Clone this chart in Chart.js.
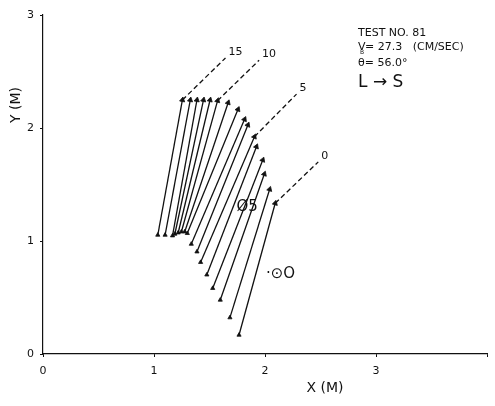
<!DOCTYPE html>
<html>
<head>
<meta charset="utf-8">
<script src="https://cdn.jsdelivr.net/npm/chart.js@4.4.1/dist/chart.umd.min.js"></script>
<style>
  body { margin: 0; background: #fff; }
</style>
</head>
<body>
<canvas id="myChart" width="495" height="406"></canvas>
<script>
// run numbers 0..15, lower end (start) and upper end (arrow head) in metres
const runs = [0, 1, 2, 3, 4, 5, 6, 7, 8, 9, 10, 11, 12, 13, 14, 15];
const startX = [1.766, 1.684, 1.597, 1.529, 1.476, 1.420, 1.387, 1.336, 1.300, 1.277, 1.247, 1.218, 1.188, 1.167, 1.100, 1.034];
const startY = [0.168, 0.322, 0.478, 0.582, 0.701, 0.812, 0.905, 0.973, 1.068, 1.082, 1.082, 1.073, 1.062, 1.047, 1.053, 1.053];
const endX = [2.092, 2.042, 1.994, 1.980, 1.923, 1.905, 1.846, 1.816, 1.757, 1.668, 1.573, 1.505, 1.446, 1.387, 1.327, 1.256];
const endY = [1.334, 1.458, 1.593, 1.717, 1.835, 1.923, 2.027, 2.077, 2.165, 2.224, 2.242, 2.248, 2.248, 2.248, 2.248, 2.248];

// numbered runs with a dashed leader to their label
const taggedRuns = [0, 5, 10, 15];
const tagX = [2.48, 2.284, 1.947, 1.644];
const tagY = [1.70, 2.30, 2.60, 2.62];

const xTicks = [0, 1, 2, 3];
const yTicks = [0, 1, 2, 3];

const ink = "#111";
const font = "'DejaVu Sans', sans-serif";

// arrow head direction, degrees clockwise from up (pixel scales ~112.5 / 113 per metre)
function headAngle(i) {
  const dx = (endX[i] - startX[i]) * 112.5;
  const dy = (endY[i] - startY[i]) * 113;
  return (Math.atan2(dx, dy) * 180) / Math.PI;
}

const datasets = runs.map((r, i) => ({
  label: "run " + r,
  data: [
    { x: startX[i], y: startY[i] },
    { x: endX[i], y: endY[i] },
  ],
  showLine: true,
  borderColor: ink,
  borderWidth: 1.3,
  backgroundColor: ink,
  pointStyle: "triangle",
  pointRadius: [2.4, 3],
  pointRotation: [0, headAngle(i)],
  pointBorderWidth: 0.8,
  pointBorderColor: ink,
}));

taggedRuns.forEach((r, k) => {
  datasets.push({
    label: "tag " + r,
    data: [
      { x: endX[r], y: endY[r] },
      { x: tagX[k], y: tagY[k] },
    ],
    showLine: true,
    borderColor: ink,
    borderWidth: 1.3,
    borderDash: [5, 3],
    pointRadius: 0,
  });
});

const textPlugin = {
  id: "plotText",
  afterDraw(chart) {
    const ctx = chart.ctx;
    const xs = chart.scales.x;
    const ys = chart.scales.y;
    ctx.save();
    ctx.fillStyle = ink;
    ctx.textBaseline = "middle";

    // run numbers at end of the leaders
    ctx.font = "11px " + font;
    ctx.textAlign = "left";
    taggedRuns.forEach((r, k) => {
      const px = xs.getPixelForValue(tagX[k]);
      const py = ys.getPixelForValue(tagY[k]);
      ctx.fillText(String(r), px + 3, py - 6);
    });

    // test info block
    const left = 358;
    ctx.font = "11px " + font;
    ctx.fillText("TEST NO. 81", left, 33);
    ctx.fillText("V", left, 47);
    ctx.font = "6px " + font;
    ctx.fillText("B", left + 2, 52);
    ctx.font = "11px " + font;
    ctx.fillText("= 27.3   (CM/SEC)", left + 7, 47);
    ctx.fillText("\u03b8= 56.0\u00b0", left, 63);
    ctx.font = "17px " + font;
    ctx.fillText("L \u2192 S", left, 83);

    // circle marks inside the plot
    ctx.font = "15px " + font;
    ctx.textAlign = "center";
    ctx.fillText("\u00d85", xs.getPixelForValue(1.84), ys.getPixelForValue(1.30));
    ctx.fillText("\u00b7\u2299O", xs.getPixelForValue(2.14), ys.getPixelForValue(0.71));

    // axis titles
    ctx.font = "14px " + font;
    ctx.fillText("X (M)", 325, 388);
    ctx.translate(16, 105);
    ctx.rotate(-Math.PI / 2);
    ctx.fillText("Y (M)", 0, 0);
    ctx.restore();
  },
};

new Chart(document.getElementById("myChart"), {
  type: "scatter",
  data: { datasets: datasets },
  options: {
    responsive: false,
    animation: false,
    layout: { padding: { top: 15, right: 2, left: 0, bottom: 0 } },
    plugins: {
      legend: { display: false },
      tooltip: { enabled: false },
    },
    scales: {
      x: {
        type: "linear",
        min: 0,
        max: 4,
        afterFit: (scale) => {
          scale.height = 52;
        },
        afterBuildTicks: (scale) => {
          scale.ticks = xTicks.concat([4]).map((v) => ({ value: v }));
        },
        ticks: {
          color: ink,
          font: { family: font, size: 11 },
          padding: 8,
          maxRotation: 0,
          callback: (v) => (xTicks.includes(v) ? String(v) : ""),
        },
        grid: { drawOnChartArea: false, color: ink, tickLength: 3 },
        border: { color: ink, width: 1.2 },
      },
      y: {
        type: "linear",
        min: 0,
        max: 3,
        afterFit: (scale) => {
          scale.width = 43;
        },
        afterBuildTicks: (scale) => {
          scale.ticks = yTicks.map((v) => ({ value: v }));
        },
        ticks: {
          color: ink,
          font: { family: font, size: 11 },
          padding: 6,
        },
        grid: { drawOnChartArea: false, color: ink, tickLength: 3 },
        border: { color: ink, width: 1.2 },
      },
    },
  },
  plugins: [textPlugin],
});
</script>
</body>
</html>
